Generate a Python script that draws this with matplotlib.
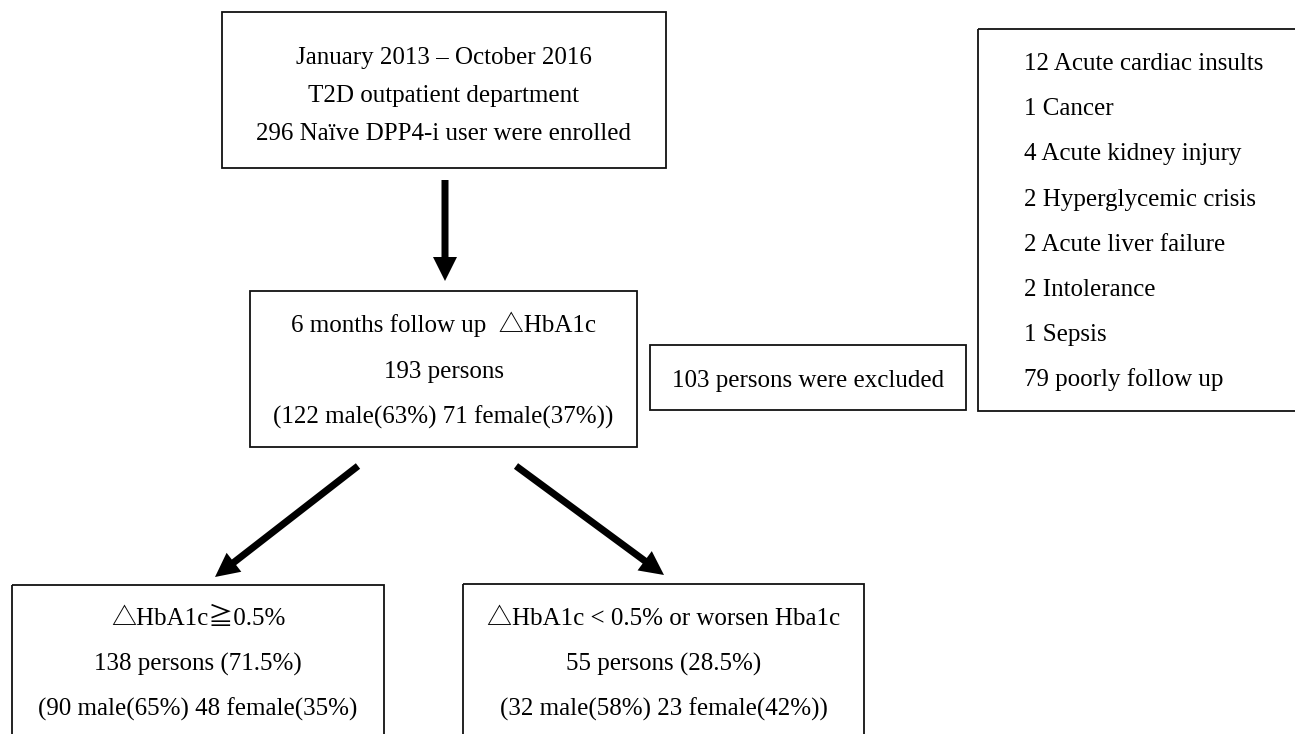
import matplotlib
matplotlib.use("Agg")
import matplotlib.pyplot as plt
from matplotlib.patches import Rectangle, FancyArrow

plt.rcParams['font.family'] = ['Liberation Serif', 'Noto Sans CJK TC', 'DejaVu Sans']

# box texts
enroll_lines = ["January 2013 \u2013 October 2016",
                "T2D outpatient department",
                "296 Na\u00efve DPP4-i user were enrolled"]
follow_lines = ["6 months follow up  \u25b3HbA1c",
                "193 persons",
                "(122 male(63%) 71 female(37%))"]
excluded_text = "103 persons were excluded"
reasons = ["12 Acute cardiac insults", "1 Cancer", "4 Acute kidney injury",
           "2 Hyperglycemic crisis", "2 Acute liver failure", "2 Intolerance",
           "1 Sepsis", "79 poorly follow up"]
good_lines = ["\u25b3HbA1c\u22670.5%",
              "138 persons (71.5%)",
              "(90 male(65%) 48 female(35%)"]
poor_lines = ["\u25b3HbA1c < 0.5% or worsen Hba1c",
              "55 persons (28.5%)",
              "(32 male(58%) 23 female(42%))"]

# layout in pixels (x0, y0, x1, y1), y downwards
W, H = 1295, 734
fig = plt.figure(figsize=(W / 100, H / 100), dpi=100)
ax = fig.add_axes([0, 0, 1, 1])
ax.set_xlim(0, W)
ax.set_ylim(H, 0)
ax.axis('off')

fs = 18
lw = 1.3

def box(x0, y0, x1, y1):
    ax.add_patch(Rectangle((x0, y0), x1 - x0, y1 - y0, fill=False,
                           edgecolor='#111111', linewidth=lw, clip_on=True))

def lines_centered(xc, baselines, lines):
    for yb, t in zip(baselines, lines):
        ax.text(xc, yb, t, ha='center', va='baseline', fontsize=fs, color='black')

# top box
box(222, 12, 666, 168)
lines_centered(444, [64, 102, 140], enroll_lines)

# middle box
box(250, 291, 637, 447)
lines_centered(443.5, [332, 378, 424], follow_lines)

# excluded box
box(650, 345, 966, 410)
ax.text(808, 387, excluded_text, ha='center', va='baseline', fontsize=fs)

# reasons box (runs off the right edge)
box(978, 29, 1320, 411)
for i, r in enumerate(reasons):
    ax.text(1024, 70 + i * 45.2, r, ha='left', va='baseline', fontsize=fs)

# bottom boxes (cut off at bottom)
box(12, 585, 384, 770)
lines_centered(198, [625, 671, 716], good_lines)
box(463, 584, 864, 770)
lines_centered(663.5, [625, 671, 716], poor_lines)

# arrows
def arrow(x0, y0, x1, y1):
    ax.add_patch(FancyArrow(x0, y0, x1 - x0, y1 - y0, width=7, head_width=24,
                            head_length=24, length_includes_head=True,
                            color='black', linewidth=0))

arrow(445, 180, 445, 281)
arrow(358, 466, 215, 577)
arrow(516, 466, 664, 575)

fig.savefig('out.png', dpi=100, facecolor='white')
